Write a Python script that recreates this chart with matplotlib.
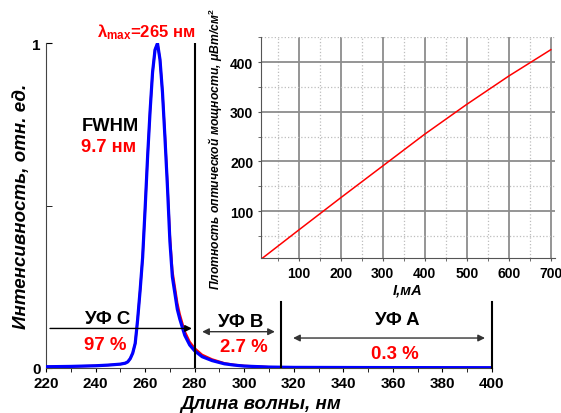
import numpy as np
import matplotlib
matplotlib.use("Agg")
import matplotlib.pyplot as plt
from matplotlib.ticker import MultipleLocator

plt.rcParams['font.family'] = ['Liberation Sans', 'DejaVu Sans']
plt.rcParams['mathtext.fontset'] = 'custom'
plt.rcParams['mathtext.rm'] = 'Liberation Sans:bold'
plt.rcParams['mathtext.bf'] = 'Liberation Sans:bold'
plt.rcParams['mathtext.it'] = 'Liberation Sans:bold:italic'

# spectrum (relative intensity)
wl = [220, 230, 240, 245, 250, 252, 253, 254, 255, 256, 256.6, 257, 258, 259, 260, 261, 262, 263, 264, 265,
      266, 267, 268, 269, 270, 271, 272, 273, 274, 275, 276, 278, 280, 283, 287, 292, 296, 300, 310, 320, 350, 400]
intensity = [0.003, 0.004, 0.006, 0.008, 0.011, 0.014, 0.018, 0.028, 0.045, 0.075, 0.119, 0.15, 0.24, 0.34, 0.49, 0.65, 0.79, 0.91, 0.98, 1.0,
             0.95, 0.85, 0.71, 0.56, 0.39, 0.28, 0.23, 0.18, 0.15, 0.125, 0.10, 0.07, 0.052, 0.034, 0.022, 0.012, 0.008, 0.005, 0.002, 0.001, 0.0005, 0.0]
fit = [0.003, 0.004, 0.006, 0.008, 0.011, 0.014, 0.018, 0.028, 0.045, 0.075, 0.119, 0.15, 0.24, 0.34, 0.49, 0.65, 0.79, 0.91, 0.98, 1.0,
       0.95, 0.85, 0.72, 0.57, 0.41, 0.30, 0.25, 0.20, 0.165, 0.138, 0.112, 0.08, 0.060, 0.040, 0.026, 0.014, 0.009, 0.006, 0.002, 0.001, 0.0005, 0.0]

# power density vs current
cur = [10, 100, 200, 300, 400, 500, 600, 700]
power = [3, 62, 127, 191, 255, 315, 372, 425]

fig = plt.figure(figsize=(5.61, 4.14), dpi=100)
ax = fig.add_axes([0.082, 0.1094, 0.795, 0.7836])

ax.plot(wl, fit, color='red', lw=1.6, zorder=2)
ax.plot(wl, intensity, color='blue', lw=2.3, zorder=3)

ax.set_xlim(220, 400)
ax.set_ylim(0, 1)
ax.spines['top'].set_visible(False)
ax.spines['right'].set_visible(False)
ax.spines['left'].set_color('#444444')
ax.spines['bottom'].set_color('#444444')
ax.set_xticks(np.arange(220, 401, 20))
ax.xaxis.set_minor_locator(MultipleLocator(10))
ax.set_yticks([0, 1])
ax.set_yticklabels(['0', '1'])
ax.yaxis.set_minor_locator(MultipleLocator(0.5))
ax.tick_params(axis='x', which='both', direction='out', length=3, labelsize=11, pad=3)
ax.tick_params(axis='y', which='both', direction='in', length=4, labelsize=11, pad=4)
for t in ax.get_xticklabels() + ax.get_yticklabels():
    t.set_fontweight('bold')

ax.set_xlabel('Длина волны, нм', fontsize=13.5, fontweight='bold', style='italic')
ax.xaxis.set_label_coords(0.482, -0.085)
ax.set_ylabel('Интенсивность, отн. ед.', fontsize=13.5, fontweight='bold', style='italic')
ax.yaxis.set_label_coords(-0.036, 0.5)

# region borders
ax.plot([280, 280], [0, 1], color='black', lw=1.5, zorder=4)
ax.plot([315, 315], [0, 0.2035], color='black', lw=1.5, zorder=4)
ax.plot([400, 400], [0, 0.2035], color='black', lw=1.5, zorder=4, clip_on=False)

# arrows
ax.annotate('', xy=(280, 0.121), xytext=(220.5, 0.121),
            arrowprops=dict(arrowstyle='-|>', color='black', lw=1, mutation_scale=10))
ax.annotate('', xy=(313.5, 0.111), xytext=(281.9, 0.111),
            arrowprops=dict(arrowstyle='<|-|>', color='#333333', lw=1, mutation_scale=10))
ax.annotate('', xy=(398.3, 0.0915), xytext=(318.6, 0.0915),
            arrowprops=dict(arrowstyle='<|-|>', color='#333333', lw=1, mutation_scale=10))

ax.text(244.8, 0.152, 'УФ C', fontsize=13.4, fontweight='bold', ha='center', va='center')
ax.text(244.1, 0.072, '97 %', fontsize=13.4, fontweight='bold', color='red', ha='center', va='center')
ax.text(298.7, 0.143, 'УФ B', fontsize=13.4, fontweight='bold', ha='center', va='center')
ax.text(299.7, 0.065, '2.7 %', fontsize=13.4, fontweight='bold', color='red', ha='center', va='center')
ax.text(361.7, 0.148, 'УФ A', fontsize=13.4, fontweight='bold', ha='center', va='center')
ax.text(361.0, 0.044, '0.3 %', fontsize=13.4, fontweight='bold', color='red', ha='center', va='center')

ax.text(234.3, 0.747, 'FWHM', fontsize=13.2, fontweight='bold', ha='left', va='center')
ax.text(234.3, 0.683, '9.7 нм', fontsize=13.2, fontweight='bold', color='red', ha='left', va='center')
ax.text(240.5, 1.037, r'$\mathbf{\lambda_{max}}$=265 нм', fontsize=12, fontweight='bold',
        color='red', ha='left', va='center')

# inset
ins = fig.add_axes([0.4652, 0.3737, 0.5241, 0.5338])
ins.set_facecolor('none')
ins.plot(cur, power, color='red', lw=1.1, zorder=3)
ins.set_xlim(10, 710)
ins.set_ylim(5, 450)
ins.set_xticks([100, 200, 300, 400, 500, 600, 700])
ins.set_yticks([100, 200, 300, 400])
ins.xaxis.set_minor_locator(MultipleLocator(50))
ins.yaxis.set_minor_locator(MultipleLocator(50))
ins.grid(True, which='major', color='#8c8c8c', lw=1.3)
ins.grid(True, which='minor', color='#bdbdbd', lw=0.9, ls=':')
ins.spines['top'].set_visible(False)
ins.spines['right'].set_visible(False)
ins.spines['left'].set_color('#555555')
ins.spines['bottom'].set_color('#555555')
ins.tick_params(axis='both', which='both', direction='out', length=2.5, color='#555555', labelsize=10, pad=3)
for t in ins.get_xticklabels() + ins.get_yticklabels():
    t.set_fontweight('bold')
ins.set_xlabel('I,мА', fontsize=10.5, fontweight='bold', style='italic', labelpad=2)
ins.set_ylabel('Плотность оптической мощности, μВт/см$^2$', fontsize=8.7, fontweight='bold',
               style='italic', labelpad=4)

fig.savefig('out.png', dpi=100)
